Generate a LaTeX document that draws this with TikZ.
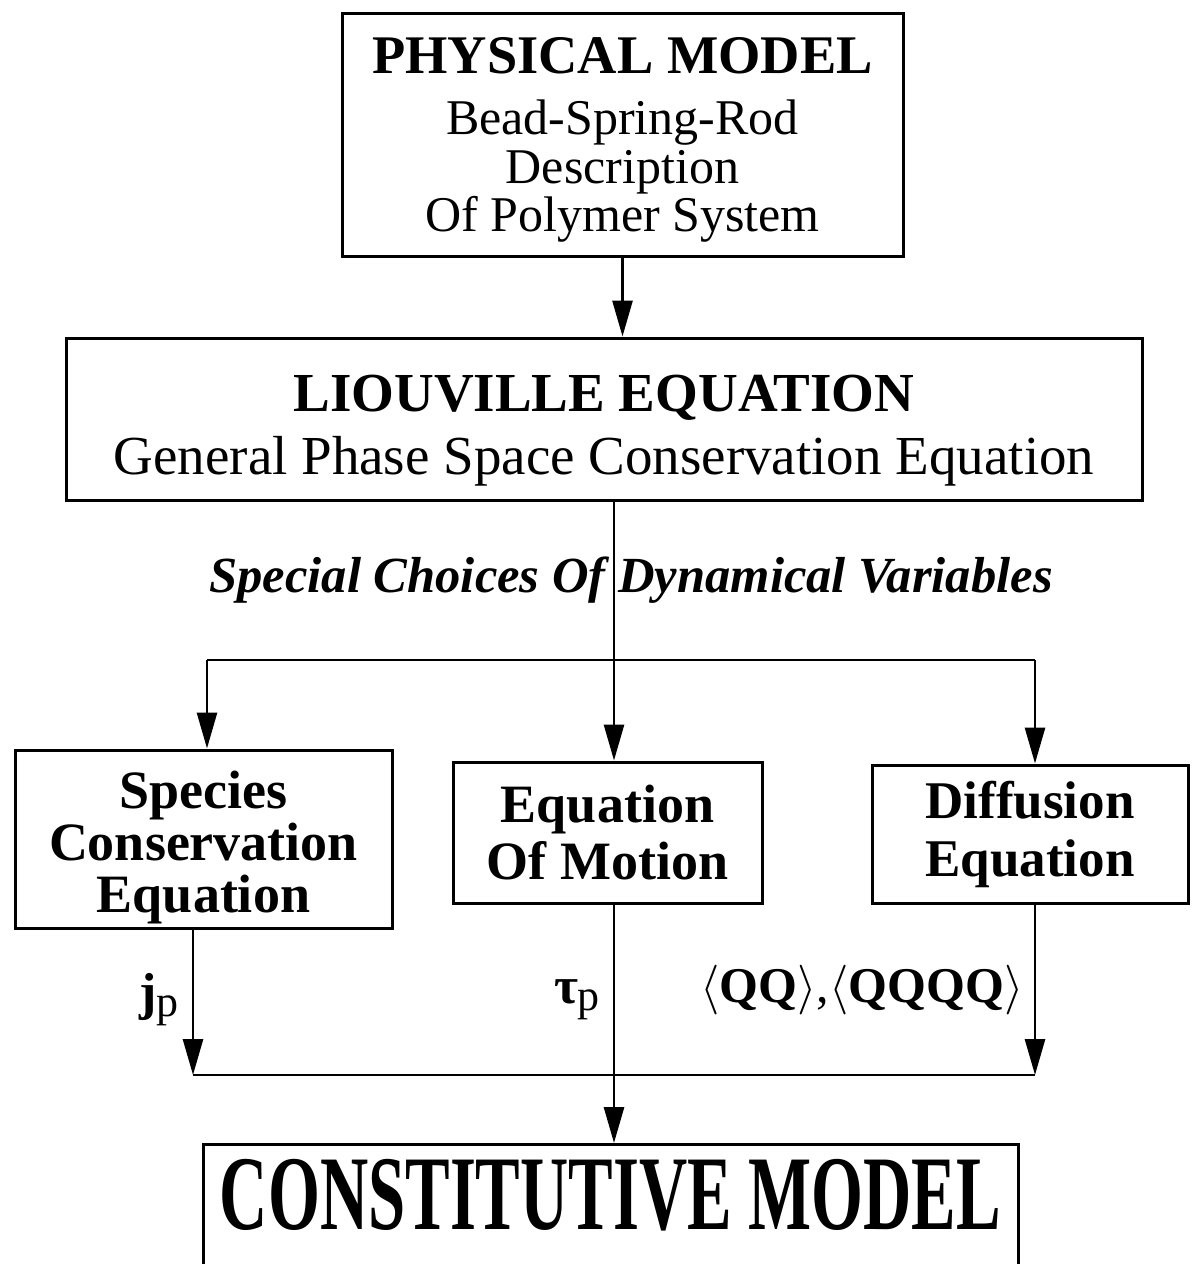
\documentclass[tikz,border=0pt]{standalone}
\usepackage{fontspec}
\usepackage{graphicx}
\setmainfont{Liberation Serif}
\usetikzlibrary{arrows.meta}
\begin{document}
\begin{tikzpicture}[x=0.5pt,y=-0.5pt,
  box/.style={draw, line width=1.5pt, align=center, inner sep=0pt},
  conn/.style={line width=1.4pt},
  arr/.style={conn, -{Triangle[length=18pt,width=10pt]}},
  lbl/.style={inner sep=0pt}]
\useasboundingbox (0,0) rectangle (1191,1264);
% boxes
\node[box, minimum width=280.5pt, minimum height=121.5pt,
      font=\fontsize{25}{24.25}\selectfont] (phys) at (622.5,134.5)
  {\rule{0pt}{23.4pt}{\fontsize{27.2}{30}\selectfont\bfseries PHYSICAL MODEL}\\[6.25pt]
   Bead-Spring-Rod\\
   Description\\
   Of Polymer System};
\node[box, minimum width=538pt, minimum height=81pt,
      font=\fontsize{27.5}{31.75}\selectfont] (liou) at (604,419)
  {\rule{0pt}{29.6pt}{\bfseries LIOUVILLE EQUATION}\\
   General Phase Space Conservation Equation};
\node[box, minimum width=188.5pt, minimum height=89pt,
      font=\fontsize{27}{26.1}\selectfont\bfseries] (spec) at (203.5,839)
  {\rule{0pt}{27pt}Species\\
   Conservation\\
   Equation};
\node[box, minimum width=154.5pt, minimum height=70.5pt,
      font=\fontsize{27}{28.5}\selectfont\bfseries] (mot) at (607.5,832.5)
  {Equation\\
   Of Motion};
\node[box, minimum width=158pt, minimum height=69pt,
      font=\fontsize{26.5}{29}\selectfont\bfseries] (diff) at (1030,834)
  {Diffusion\\
   Equation};
\node[box, anchor=north, minimum width=407.5pt, text height=42.5pt, text depth=40pt] (cons) at (610.5,1143)
  {\scalebox{0.63}[1]{\fontsize{53}{60}\selectfont\bfseries CONSTITUTIVE MODEL}};
% labels
\node[lbl] (choice) at (631,580)
  {\fontsize{25.3}{30}\selectfont\bfseries\itshape Special Choices Of Dynamical Variables};
\node[lbl] (jp) at (159,1000)
  {\fontsize{26}{30}\selectfont\textbf{j}\raisebox{-0.3ex}{\fontsize{22}{26}\selectfont p}};
\node[lbl] (taup) at (577,1000)
  {\fontsize{26}{30}\selectfont\textbf{τ}\raisebox{-0.3ex}{\fontsize{22}{26}\selectfont p}};
\node[lbl] (qq) at (862,990)
  {\fontsize{25}{30}\selectfont$\langle$\textbf{QQ}$\rangle$,$\langle$\textbf{QQQQ}$\rangle$};
% junction coordinates
\coordinate (trunk) at (614,660);
\coordinate (bl) at (207,660);
\coordinate (br) at (1035,660);
\coordinate (cl) at (193,1075);
\coordinate (cm) at (614,1075);
\coordinate (cr) at (1035,1075);
% connectors
\draw[arr] (phys.south) -- (liou.north -| phys.south);
\draw[arr] (liou.south -| trunk) -- (mot.north -| trunk);
\draw[conn] (bl) -- (br);
\draw[arr] (bl) -- (spec.north -| bl);
\draw[arr] (br) -- (diff.north -| br);
\draw[arr] (spec.south -| cl) -- (cl);
\draw[arr] (diff.south -| cr) -- (cr);
\draw[conn] (cl) -- (cr);
\draw[arr] (mot.south -| cm) -- (cons.north -| cm);
\end{tikzpicture}
\end{document}
